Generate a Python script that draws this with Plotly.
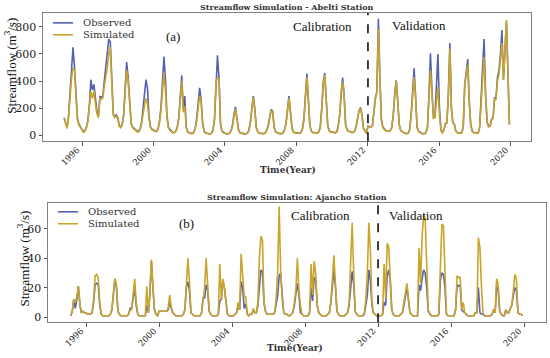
import pandas as pd
import plotly.graph_objects as go

# ---------------- data (monthly) ----------------
abelti_start = "1995-01-01"
abelti_observed = [
    130, 90, 55, 140, 300, 480, 650, 500, 300, 120, 80, 60,
    45, 25, 35, 60, 110, 230, 410, 335, 375, 260, 175, 140,
    285, 280, 290, 400, 510, 620, 710, 690, 420, 160, 135, 150,
    130, 70, 60, 80, 150, 330, 540, 430, 210, 90, 60, 50,
    40, 30, 30, 45, 90, 200, 330, 410, 340, 140, 60, 45,
    40, 30, 30, 45, 100, 200, 380, 580, 420, 150, 60, 40,
    30, 20, 20, 30, 60, 130, 280, 440, 190, 290, 60, 25,
    18, 12, 12, 20, 50, 120, 230, 350, 260, 90, 30, 18,
    15, 10, 10, 15, 40, 120, 410, 590, 420, 90, 30, 20,
    15, 10, 10, 15, 30, 70, 150, 210, 130, 45, 20, 15,
    12, 10, 10, 15, 35, 90, 190, 290, 200, 60, 25, 15,
    15, 12, 12, 18, 35, 70, 120, 190, 180, 60, 25, 18,
    15, 12, 12, 18, 40, 90, 200, 290, 170, 55, 25, 18,
    18, 14, 14, 20, 45, 120, 280, 455, 260, 70, 30, 20,
    20, 15, 15, 25, 60, 200, 390, 460, 250, 70, 35, 25,
    25, 18, 18, 25, 60, 150, 330, 425, 300, 80, 40, 30,
    28, 20, 20, 30, 60, 120, 180, 205, 150, 50, 30, 15,
    66, 60, 60, 70, 190, 280, 320, 860, 430, 117, 60, 45,
    35, 30, 30, 35, 60, 150, 300, 405, 250, 80, 35, 25,
    20, 15, 12, 15, 40, 150, 340, 495, 280, 60, 30, 20,
    15, 12, 12, 20, 60, 300, 605, 330, 130, 135, 330, 600,
    200, 40, 20, 40, 85, 95, 300, 680, 200, 95, 80, 30,
    20, 15, 15, 20, 60, 375, 470, 563, 250, 80, 30, 20,
    18, 15, 15, 60, 250, 500, 710, 300, 100, 65, 70, 117,
    130, 280, 270, 430, 480, 600, 776, 410, 620, 840, 460, 80,
]
abelti_simulated = [
    125, 85, 50, 130, 280, 420, 500, 480, 270, 110, 75, 55,
    40, 22, 30, 55, 100, 210, 322, 270, 330, 230, 160, 130,
    270, 265, 275, 360, 425, 500, 600, 650, 380, 150, 130, 140,
    125, 65, 55, 75, 140, 300, 480, 400, 190, 85, 55, 45,
    35, 25, 25, 40, 80, 160, 220, 270, 230, 120, 55, 40,
    35, 25, 25, 40, 90, 180, 340, 460, 330, 130, 55, 35,
    28, 18, 18, 28, 55, 120, 260, 400, 170, 215, 55, 22,
    16, 10, 10, 18, 45, 100, 200, 290, 240, 80, 28, 15,
    13, 9, 9, 14, 35, 110, 400, 424, 410, 80, 28, 18,
    13, 9, 9, 14, 28, 65, 140, 195, 125, 42, 18, 13,
    11, 9, 9, 14, 32, 85, 180, 280, 190, 55, 23, 14,
    14, 11, 11, 17, 33, 65, 115, 180, 175, 55, 23, 16,
    14, 11, 11, 17, 38, 85, 190, 275, 165, 52, 23, 16,
    16, 13, 13, 19, 42, 110, 270, 430, 250, 65, 28, 19,
    18, 14, 14, 23, 55, 190, 380, 445, 240, 65, 33, 23,
    23, 17, 17, 23, 55, 140, 320, 395, 290, 75, 38, 28,
    26, 19, 19, 28, 55, 115, 175, 200, 145, 48, 28, 14,
    64, 58, 58, 68, 180, 270, 310, 780, 410, 110, 55, 42,
    33, 28, 28, 33, 55, 145, 295, 400, 245, 75, 33, 23,
    18, 14, 11, 14, 38, 145, 330, 430, 270, 55, 28, 18,
    14, 11, 11, 18, 55, 280, 480, 300, 125, 130, 250, 360,
    150, 35, 18, 38, 80, 90, 290, 640, 190, 90, 78, 28,
    18, 14, 14, 18, 55, 375, 460, 520, 240, 75, 28, 18,
    17, 14, 14, 55, 230, 450, 578, 290, 95, 62, 65, 110,
    125, 270, 260, 400, 450, 560, 680, 410, 620, 850, 460, 80,
]

ajancho_start = "1995-03-01"
ajancho_observed = [
    1, 4, 12, 6, 12, 21, 8, 3, 4, 3,
    3, 2, 2, 2, 3, 10, 22, 23, 22, 8, 2, 1,
    1, 1, 1, 1, 2, 5, 15, 26, 20, 4, 2, 1,
    1, 1, 1, 1, 2, 6, 6, 12, 20, 8, 2, 1,
    1, 1, 1, 1, 8, 3, 15, 38, 20, 5, 2, 1,
    4, 4, 4, 4, 4, 4, 5, 10, 6, 3, 2, 1,
    1, 1, 1, 1, 2, 5, 20, 24, 18, 3, 2, 1,
    1, 1, 1, 1, 3, 13, 13, 22, 18, 4, 2, 1,
    1, 1, 1, 2, 11, 12, 25, 20, 10, 2, 1, 1,
    1, 1, 2, 3, 8, 5, 24, 20, 6, 9, 2, 1,
    2, 2, 5, 3, 3, 8, 20, 32, 31, 10, 4, 2,
    2, 2, 2, 2, 3, 10, 14, 28, 30, 15, 3, 2,
    2, 1, 1, 2, 3, 8, 15, 23, 15, 3, 2, 1,
    1, 1, 1, 3, 20, 11, 27, 25, 8, 3, 2, 1,
    1, 1, 1, 2, 3, 10, 22, 32, 20, 4, 2, 1,
    1, 1, 1, 2, 3, 8, 20, 31, 22, 4, 2, 1,
    1, 1, 1, 2, 10, 15, 32, 25, 8, 3, 2, 1,
    1, 1, 1, 2, 10, 8, 28, 32, 25, 5, 2, 1,
    1, 1, 1, 2, 3, 8, 15, 20, 12, 3, 2, 1,
    1, 1, 1, 22, 18, 26, 32, 30, 20, 4, 2, 1,
    1, 1, 1, 1, 2, 25, 30, 29, 20, 2, 1, 1,
    1, 1, 1, 5, 22, 21, 22, 5, 4, 3, 2, 1,
    1, 1, 1, 1, 3, 3, 20, 3, 2, 2, 1, 1,
    1, 1, 1, 2, 5, 3, 21, 18, 4, 2, 1, 1,
    5, 3, 3, 6, 8, 15, 20, 18, 3, 2, 2, 1,
]
ajancho_simulated = [
    1, 4, 12, 10, 14, 21, 9, 3, 4, 3,
    3, 2, 2, 2, 3, 12, 28, 29, 27, 10, 2, 1,
    1, 1, 1, 1, 2, 5, 16, 26, 22, 4, 2, 1,
    1, 1, 1, 1, 2, 5, 5, 14, 26, 10, 2, 1,
    1, 1, 1, 1, 21, 3, 15, 39, 20, 5, 2, 1,
    4, 4, 4, 4, 4, 4, 6, 15, 7, 3, 2, 1,
    1, 1, 1, 1, 2, 5, 22, 40, 24, 3, 2, 1,
    1, 1, 1, 1, 3, 10, 20, 40, 24, 4, 2, 1,
    1, 1, 1, 2, 36, 12, 26, 20, 10, 2, 1, 1,
    1, 1, 2, 3, 10, 5, 43, 25, 14, 14, 2, 1,
    2, 2, 6, 3, 3, 10, 40, 55, 52, 10, 4, 2,
    2, 2, 2, 2, 3, 12, 30, 75, 30, 12, 3, 2,
    2, 1, 1, 2, 3, 10, 18, 40, 18, 8, 2, 1,
    1, 1, 1, 4, 36, 15, 38, 30, 8, 3, 2, 1,
    1, 1, 1, 2, 3, 10, 25, 42, 22, 4, 2, 1,
    1, 1, 1, 2, 3, 10, 40, 64, 30, 4, 2, 1,
    1, 1, 1, 3, 12, 30, 64, 45, 10, 3, 2, 1,
    1, 1, 1, 2, 36, 13, 50, 48, 25, 5, 2, 1,
    1, 1, 1, 2, 3, 10, 17, 23, 12, 3, 2, 1,
    1, 1, 1, 47, 23, 55, 69, 67, 40, 5, 2, 1,
    1, 1, 1, 1, 2, 35, 63, 62, 25, 2, 1, 1,
    1, 1, 1, 5, 28, 27, 27, 5, 10, 3, 2, 1,
    1, 1, 1, 1, 3, 3, 54, 47, 20, 3, 1, 1,
    1, 1, 1, 2, 5, 3, 26, 22, 4, 2, 1, 1,
    5, 3, 3, 6, 8, 18, 29, 26, 3, 2, 2, 1,
]

split_date = "2012-01-01"
top_yticks = [0, 200, 400, 600, 800]
bottom_yticks = [0, 20, 40, 60]
year_ticks = ["1996-01-01", "2000-01-01", "2004-01-01", "2008-01-01",
              "2012-01-01", "2016-01-01", "2020-01-01"]
year_labels = ["1996", "2000", "2004", "2008", "2012", "2016", "2020"]
series_names = ["Observed", "Simulated"]

# ---------------- figure ----------------
W, H = 550, 358
OBS_C = "#5563AE"
SIM_C = "#C9A42B"
COLORS = [OBS_C, SIM_C]
SERIF = "DejaVu Serif"
BOOK = "Liberation Serif"


def px(x, y):
    return x / W, 1 - y / H


abelti_dates = pd.date_range(abelti_start, periods=len(abelti_observed), freq="MS")
ajancho_dates = pd.date_range(ajancho_start, periods=len(ajancho_observed), freq="MS")

fig = go.Figure()
for vals, name, col in zip([abelti_observed, abelti_simulated], series_names, COLORS):
    fig.add_trace(go.Scatter(x=abelti_dates, y=vals, name=name, mode="lines",
                             line=dict(color=col, width=1.6), xaxis="x", yaxis="y",
                             showlegend=False))
for vals, name, col in zip([ajancho_observed, ajancho_simulated], series_names, COLORS):
    fig.add_trace(go.Scatter(x=ajancho_dates, y=vals, name=name, mode="lines",
                             line=dict(color=col, width=1.6), xaxis="x2", yaxis="y2",
                             showlegend=False))

axis_common = dict(showline=True, mirror=True, linecolor="#808080", linewidth=1,
                   ticks="outside", ticklen=3.5, tickcolor="#555", tickwidth=1,
                   showgrid=False, zeroline=False)
xtick_common = dict(tickangle=-45, ticklabelshift=-5, ticklabelstandoff=-4,
                    tickfont=dict(family=SERIF, size=8.5, color="#222"))

x0a, y0a = px(43, 142)
x1a, y1a = px(531, 13)
x0b, y0b = px(48, 324)
x1b, y1b = px(546, 204)

fig.update_layout(
    width=W, height=H,
    margin=dict(l=0, r=0, t=0, b=0),
    paper_bgcolor="white", plot_bgcolor="white",
    font=dict(family=SERIF, color="#222"),
    showlegend=False,
    xaxis=dict(domain=[x0a, x1a], anchor="y", type="date",
               range=["1993-10-26", "2021-02-14"],
               tickvals=year_ticks, ticktext=year_labels, **xtick_common, **axis_common),
    yaxis=dict(domain=[y0a, y1a], anchor="x", range=[-44, 903],
               tickvals=top_yticks, tickfont=dict(family=SERIF, size=11, color="#222"),
               **axis_common),
    xaxis2=dict(domain=[x0b, x1b], anchor="y2", type="date",
                range=["1993-12-01", "2021-03-15"],
                tickvals=year_ticks, ticktext=year_labels, **xtick_common, **axis_common),
    yaxis2=dict(domain=[y0b, y1b], anchor="x2", range=[-3.4, 77.5],
                tickvals=bottom_yticks, tickfont=dict(family=SERIF, size=11, color="#222"),
                **axis_common),
)

fig.add_shape(type="line", xref="x", yref="y domain", x0=split_date, x1=split_date, y0=0, y1=1,
              line=dict(color="black", width=1.5, dash="dash"))
fig.add_shape(type="line", xref="x2", yref="y2 domain", x0=split_date, x1=split_date, y0=0, y1=1,
              line=dict(color="black", width=1.5, dash="dash"))


def note(text, x, y, size, family=BOOK, color="#111", angle=0, bold=False, anchor="center"):
    ax, ay = px(x, y)
    fig.add_annotation(text=f"<b>{text}</b>" if bold else text, x=ax, y=ay,
                       xref="paper", yref="paper", showarrow=False,
                       xanchor=anchor, yanchor="middle", textangle=angle,
                       font=dict(family=family, size=size, color=color))


# legends (key line + label), one per panel
def legend_block(x_line, y_first, gap=12):
    for i, (name, col) in enumerate(zip(series_names, COLORS)):
        yy = y_first + i * gap
        lx0, ly = px(x_line, yy)
        lx1, _ = px(x_line + 20, yy)
        fig.add_shape(type="line", xref="paper", yref="paper", x0=lx0, x1=lx1, y0=ly, y1=ly,
                      line=dict(color=col, width=1.6))
        note(name, x_line + 28, yy, 10, family=SERIF, color="#333", anchor="left")


legend_block(53, 23)
legend_block(58, 213)

note("Streamflow Simulation - Abelti Station", 287, 7, 8, family=SERIF, color="#333", bold=True)
note("Streamflow Simulation: Ajancho Station", 297, 198, 8, family=SERIF, color="#333", bold=True)
note("Time(Year)", 288, 171, 9, family=SERIF, color="#333", bold=True)
note("Time(Year)", 295, 350, 9, family=SERIF, color="#333", bold=True)
note("Streamflow (m<sup>3</sup>/s)", 10, 66, 13, angle=-90)
note("Streamflow (m<sup>3</sup>/s)", 23, 260, 13, angle=-90)
note("(a)", 173, 37, 13)
note("(b)", 186, 225, 13)
note("Calibration", 322, 27, 13)
note("Validation", 419, 26, 13)
note("Calibration", 320, 217, 13)
note("Validation", 416, 217, 13)

# the page is photographed at exactly the figure size: drop the default body margin
fig.write_html("out.html",
               config={"displayModeBar": False},
               post_script="document.body.style.margin='0';document.body.style.padding='0';")
